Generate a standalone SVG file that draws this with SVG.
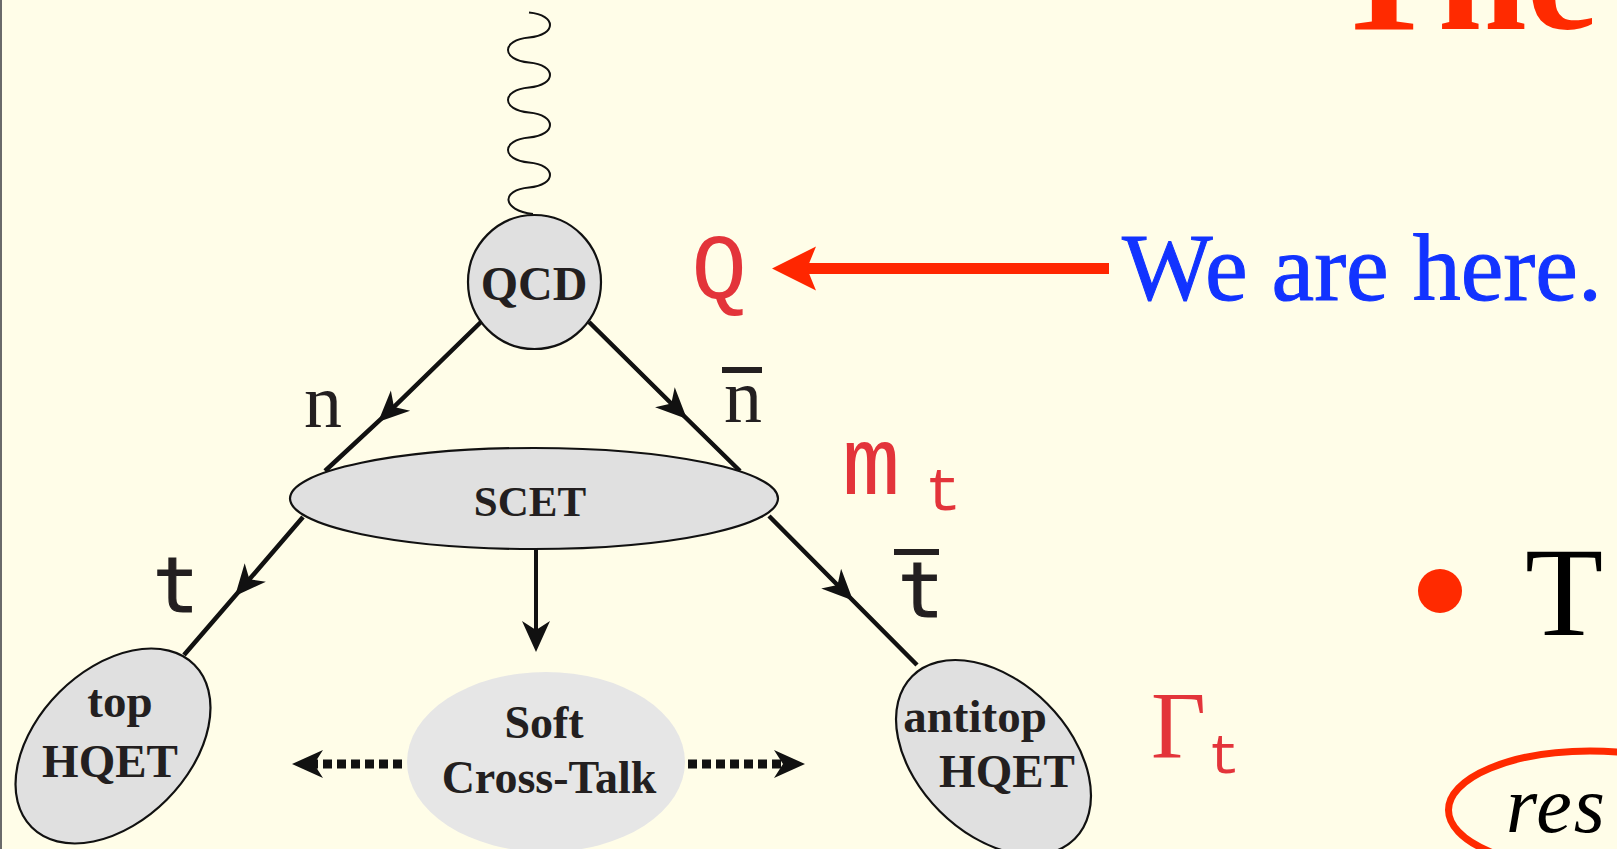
<svg xmlns="http://www.w3.org/2000/svg" width="1617" height="849" viewBox="0 0 1617 849">
<style>
.node{fill:#e0e0e0;stroke:#111;stroke-width:2.2}
.lbl{font-family:"Liberation Serif","Times New Roman",serif;font-weight:bold;fill:#231f20;text-anchor:middle}
.ln{fill:none;stroke:#111;stroke-width:4.5}
.red{fill:#e3343a}
.mono{font-family:"Liberation Mono","Courier New",monospace}
.tt{font-family:"DejaVu Sans Mono",monospace;fill:#231f20;stroke:#231f20;stroke-width:1.2;text-anchor:middle}
.serif{font-family:"Liberation Serif","Times New Roman",serif}
</style>
<defs>
<marker id="ah" markerUnits="userSpaceOnUse" orient="auto" refX="0" refY="0" markerWidth="40" markerHeight="40" overflow="visible">
<path d="M22,0 L-9,-14 L0,0 L-9,14 Z" fill="#111"/>
</marker>
<marker id="ahr" markerUnits="userSpaceOnUse" orient="auto" refX="0" refY="0" markerWidth="60" markerHeight="60" overflow="visible">
<path d="M35,0 L-9,-22 L0,0 L-9,22 Z" fill="#ff2600"/>
</marker>
</defs>
<rect x="0" y="0" width="1617" height="849" fill="#fffde8"/>
<rect x="0" y="0" width="2" height="849" fill="#6a6a6a"/>

<!-- slide text fragments -->
<text x="1331" y="29" class="serif" font-size="160" font-weight="bold" fill="#ff2a00">The</text>
<g id="here">
<text x="1122" y="300" class="serif" font-size="96" fill="#1233ff" stroke="#1233ff" stroke-width="1">We are here.</text>
</g>
<circle cx="1440" cy="591" r="22" fill="#ff2a00"/>
<text x="1525" y="635" class="serif" font-size="128" fill="#000">T</text>
<ellipse cx="1590" cy="810" rx="141.5" ry="59" fill="none" stroke="#ff2a00" stroke-width="7"/>
<text x="1506" y="832" class="serif" font-size="80" font-style="italic" fill="#000" letter-spacing="2">res</text>

<!-- connectors -->
<g id="connectors">
<path d="M529,12.5 C557,15 557,35 529,37.5 S501,60 529,62.5 S557,85 529,87.5 S501,110 529,112.5 S557,135 529,137.5 S501,160 529,162.5 S557,185 529,187.5 S501,210 533,214" fill="none" stroke="#111" stroke-width="2"/>
<polyline class="ln" points="482,321 394,406.9 325,471" marker-mid="url(#ah)"/>
<polyline class="ln" points="589,322 671.3,403.5 740,471" marker-mid="url(#ah)"/>
<polyline class="ln" points="303,517 249.4,579.3 184,655" marker-mid="url(#ah)"/>
<polyline class="ln" points="769,516 837.5,585 917,665" marker-mid="url(#ah)"/>
<line x1="536" y1="549" x2="536" y2="630" stroke="#111" stroke-width="4" marker-end="url(#ah)"/>
<line x1="402" y1="764" x2="314" y2="764" stroke="#111" stroke-width="9" stroke-dasharray="9 5" marker-end="url(#ah)"/>
<line x1="688" y1="764" x2="783" y2="764" stroke="#111" stroke-width="9" stroke-dasharray="9 5" marker-end="url(#ah)"/>
<line x1="1109" y1="268.5" x2="807" y2="268.5" stroke="#ff2600" stroke-width="11" marker-end="url(#ahr)"/>
</g>

<!-- nodes -->
<g id="qcd">
<ellipse class="node" cx="534.5" cy="282" rx="66.5" ry="67"/>
<text class="lbl" x="534" y="300" font-size="48">QCD</text>
</g>
<g id="scet">
<ellipse class="node" cx="534" cy="498.5" rx="244" ry="50.5"/>
<text class="lbl" x="530" y="516" font-size="43">SCET</text>
</g>
<g id="soft">
<ellipse cx="546" cy="762" rx="139" ry="90" fill="#e6e6e6"/>
<text class="lbl" x="544" y="738" font-size="46">Soft</text>
<text class="lbl" x="549" y="793" font-size="46">Cross-Talk</text>
</g>
<g id="top-hqet">
<ellipse class="node" cx="113" cy="746" rx="76" ry="115" transform="rotate(45 113 746)"/>
<text class="lbl" x="120" y="717" font-size="47">top</text>
<text class="lbl" x="110" y="777" font-size="47">HQET</text>
</g>
<g id="antitop-hqet">
<ellipse class="node" cx="993.5" cy="757.5" rx="76" ry="115" transform="rotate(-45 993.5 757.5)"/>
<text class="lbl" x="975" y="732" font-size="47">antitop</text>
<text class="lbl" x="1007" y="787" font-size="47">HQET</text>
</g>

<!-- labels -->
<g id="label-n"><text class="serif" x="323" y="427" font-size="76" text-anchor="middle" fill="#231f20">n</text></g>
<g id="label-nbar">
<text class="serif" x="743" y="422" font-size="76" text-anchor="middle" fill="#231f20">n</text>
<line x1="722" y1="370" x2="762" y2="370" stroke="#231f20" stroke-width="6"/>
</g>
<g id="label-t"><text class="tt" x="176" y="612" font-size="76">t</text></g>
<g id="label-tbar">
<text class="tt" x="921" y="617" font-size="76">t</text>
<line x1="894" y1="552" x2="939" y2="552" stroke="#231f20" stroke-width="6"/>
</g>
<g id="label-Q"><text class="mono red" x="719" y="298" font-size="92" text-anchor="middle">Q</text></g>
<g id="label-mt">
<text class="mono red" x="871" y="494" font-size="97" text-anchor="middle">m</text>
<text class="mono red" x="943" y="510" font-size="62" text-anchor="middle">t</text>
</g>
<g id="label-gt">
<text class="serif red" x="1151" y="758" font-size="95">Γ</text>
<text class="mono red" x="1224" y="773" font-size="55" text-anchor="middle">t</text>
</g>
</svg>
